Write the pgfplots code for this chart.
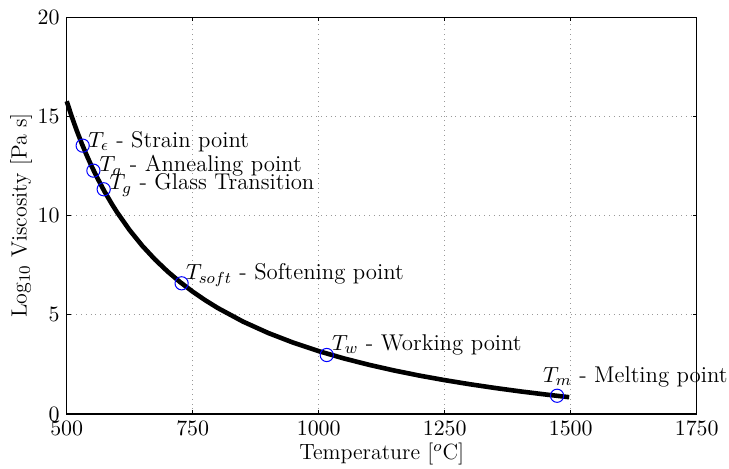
\documentclass[border=0pt]{standalone}
\usepackage{pgfplots}
\pgfplotsset{compat=1.18}

\begin{document}
\begin{tikzpicture}
% fixed page frame around the axis box
\path[use as bounding box] (-33.35pt,-27pt) rectangle (331.15pt,207pt);
\begin{axis}[
  at={(0,0)}, anchor=south west,
  scale only axis,
  width=315pt, height=198.35pt,
  xmin=500, xmax=1750, ymin=0, ymax=20,
  xtick={500,750,1000,1250,1500,1750},
  ytick={0,5,10,15,20},
  /pgf/number format/1000 sep={},
  tick align=inside,
  major tick length=2pt,
  tick style={black, line width=0.5pt},
  axis line style={black, line width=0.6pt},
  grid=major,
  major grid style={dotted, gray!80, line width=0.45pt},
  font=\fontsize{11}{13}\selectfont,
  tick label style={font=\fontsize{11}{13}\selectfont},
  xlabel={Temperature [$^o$C]},
  ylabel={Log$_{10}$ Viscosity [Pa s]},
  xlabel style={yshift=3pt},
  ylabel style={yshift=-4pt},
  clip=false,
]
% viscosity curve
\addplot[black, line width=2.3pt, no markers] coordinates {
  (500,15.768) (510,14.995) (520,14.285) (530,13.630) (540,13.024)
  (550,12.462) (560,11.939) (575,11.219) (590,10.568) (600,10.167)
  (625,9.264) (650,8.480) (675,7.794) (700,7.189) (725,6.650)
  (750,6.168) (775,5.734) (800,5.341) (850,4.657) (900,4.083)
  (950,3.593) (1000,3.170) (1050,2.802) (1100,2.479) (1150,2.192)
  (1200,1.936) (1250,1.707) (1300,1.500) (1350,1.312) (1400,1.140)
  (1450,0.984) (1497,0.848)
};
% characteristic temperatures
\addplot[only marks, mark=o, mark size=3.3pt, blue, mark options={line width=0.5pt}] coordinates {
  (531.7,13.53) (553,12.27) (573.4,11.33) (728,6.59) (1016,2.975) (1473,0.92)
};
\begin{scope}[font=\fontsize{11.4}{13}\selectfont]
\node[anchor=west, inner sep=0pt] at (axis cs:542,13.72) {$T_\epsilon$ - Strain point};
\node[anchor=west, inner sep=0pt] at (axis cs:564.7,12.5) {$T_a$ - Annealing point};
\node[anchor=west, inner sep=0pt] at (axis cs:584.5,11.55) {$T_g$ - Glass Transition};
\node[anchor=west, inner sep=0pt] at (axis cs:736,7.0) {$T_{soft}$ - Softening point};
\node[anchor=west, inner sep=0pt] at (axis cs:1025.8,3.48) {$T_w$ - Working point};
\node[anchor=west, inner sep=0pt] at (axis cs:1444.4,1.88) {$T_m$ - Melting point};
\end{scope}
\end{axis}
\end{tikzpicture}
\end{document}
